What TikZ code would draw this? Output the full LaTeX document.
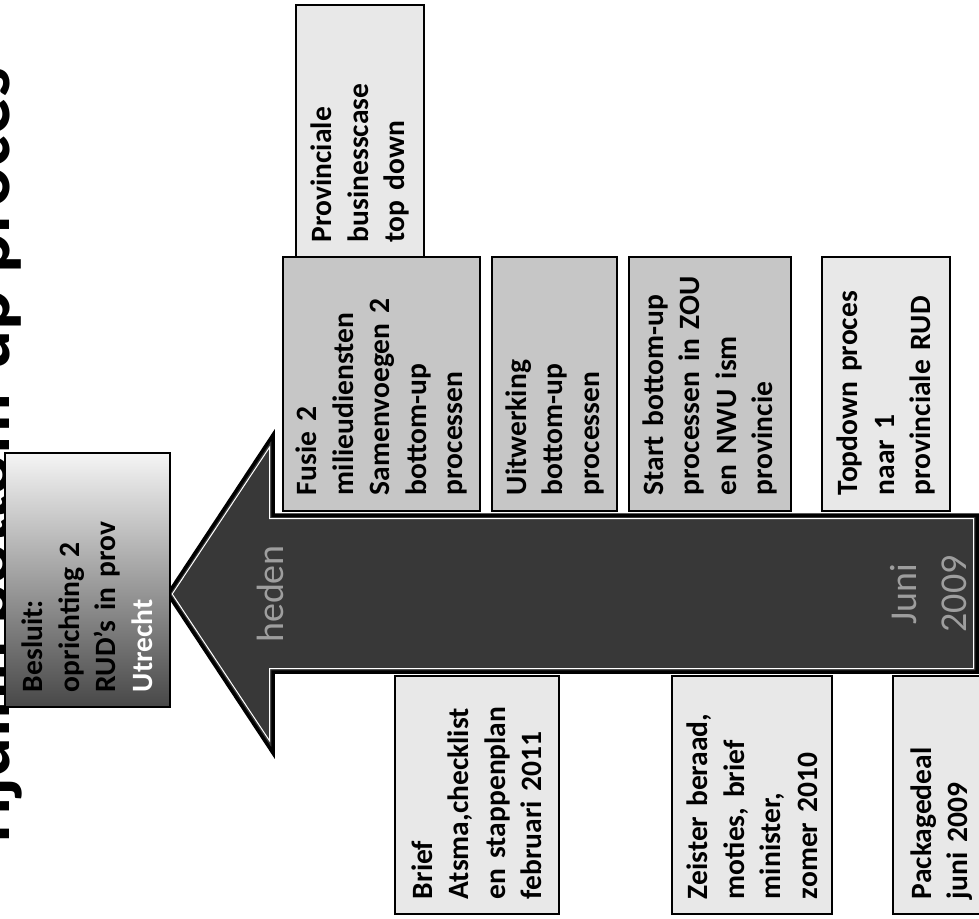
\documentclass[tikz,border=0pt]{standalone}
\usepackage{graphicx}
\usepackage{fontspec}
\setmainfont{Carlito}
\begin{document}
\begin{tikzpicture}[x=1pt,y=1pt,
  tbox/.style={draw=black, line width=2.5pt, rotate=90, align=left, inner sep=0pt,
    font=\bfseries\fontsize{29.5}{36.5}\selectfont},
  lightbox/.style={tbox, fill=gray!18},
  midbox/.style={tbox, fill=gray!45},
  bandtext/.style={rotate=90, text=white!62!black, font=\fontsize{38}{50}\selectfont,
    align=center, inner sep=0pt},
  arrowbody/.style={fill=black!78, draw=black, line width=3.5pt, line join=miter},
  arrowinner/.style={draw=white, line width=1pt}]
\useasboundingbox (0,0) rectangle (979,-918);
\clip (0,0) rectangle (979,-918);
\fill[white] (0,0) rectangle (979,-918);

% clipped title along the left edge (only the foot of its letters shows)
\begin{scope}
\clip (0,0) rectangle (22,-918);
\node[anchor=north east, inner sep=0pt, font=\bfseries\fontsize{75}{75}\selectfont]
  (title) at (22,-68) {\rotatebox{90}{Tijdlijn bottom-up proces}};
\end{scope}

% big arrow
\draw[arrowbody] (168,-594) -- (273,-435) -- (273,-515) -- (977,-515) -- (977,-672)
  -- (273,-672) -- (273,-753) -- cycle;
\draw[arrowinner] (172.2,-594) -- (269.5,-447.3) -- (269.5,-518.5) -- (973.5,-518.5)
  -- (973.5,-668.5) -- (269.5,-668.5) -- (269.5,-740.7) -- cycle;
\node[bandtext] (heden) at (270,-594) {heden};
\node[bandtext] (juni) at (929,-594) {Juni\\2009};

% decision box
\node[tbox, top color=gray!8, bottom color=black!72, minimum width=254pt,
  minimum height=165pt, text width=224pt] (besluit) at (87.5,-580)
  {Besluit:\\oprichting 2\\RUD's in prov\\\textcolor{white}{Utrecht}};

% boxes above the arrow
\node[lightbox, minimum width=252pt, minimum height=128pt, text width=222pt]
  (prov) at (360,-131) {Provinciale\\businesscase\\top down};
\node[midbox, minimum width=254pt, minimum height=197pt, text width=222pt]
  (fusie) at (381.5,-384) {Fusie 2\\milieudiensten\\Samenvoegen 2\\bottom-up\\processen};
\node[midbox, minimum width=254pt, minimum height=125pt, text width=222pt]
  (uitw) at (554.5,-384) {Uitwerking\\bottom-up\\processen};
\node[midbox, minimum width=254pt, minimum height=162pt, text width=222pt]
  (start) at (710,-384) {Start bottom-up\\processen in ZOU\\en NWU ism\\provincie};
\node[lightbox, minimum width=254pt, minimum height=128pt, text width=222pt]
  (topd) at (886,-384) {Topdown proces\\naar 1\\provinciale RUD};

% boxes below the arrow
\node[lightbox, minimum width=238pt, minimum height=164pt, text width=208pt]
  (brief) at (477,-795) {Brief\\Atsma,checklist\\en stappenplan\\februari 2011};
\node[lightbox, minimum width=238pt, minimum height=160pt, text width=208pt]
  (zeist) at (752,-795) {Zeister beraad,\\moties, brief\\minister,\\zomer 2010};
\node[lightbox, minimum width=238pt, minimum height=97pt, text width=208pt]
  (pack) at (941.5,-795) {Packagedeal\\juni 2009};
\end{tikzpicture}
\end{document}
